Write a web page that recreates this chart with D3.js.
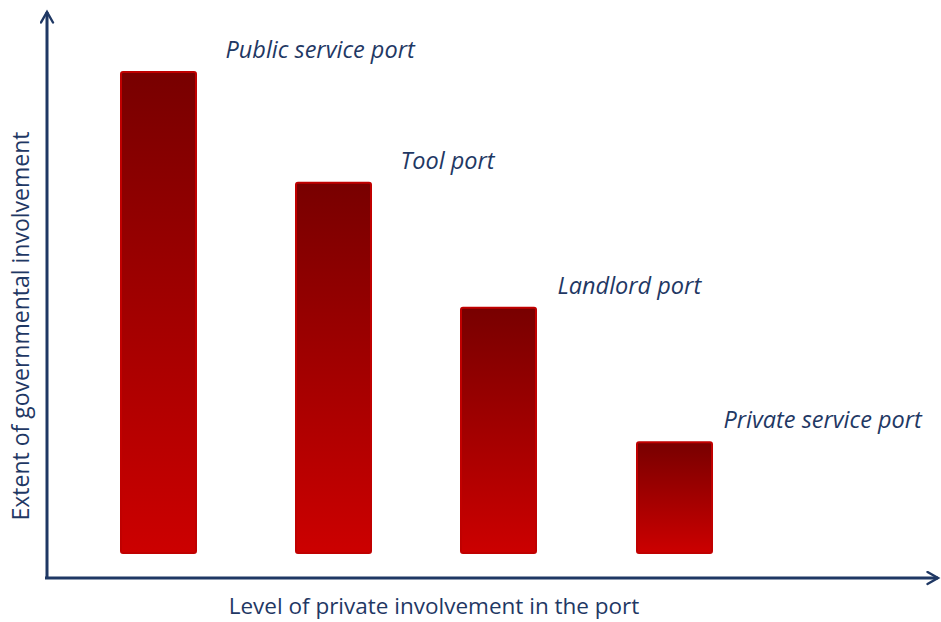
<!DOCTYPE html>
<html lang="en">
<head>
<meta charset="utf-8">
<title>Port models</title>
<script src="https://d3js.org/d3.v7.min.js"></script>
<style>
  body { margin: 0; background: #fff; }
  text { font-family: "Open Sans", "Noto Sans", sans-serif; }
</style>
</head>
<body>
<script>
// port models, ordered by growing private involvement
var ports = ['Public service port', 'Tool port', 'Landlord port', 'Private service port'];
// extent of governmental involvement (relative)
var govInvolvement = [100, 77, 51, 23];

var width = 941, height = 622;
var navy = '#1f3864';

var svg = d3.select('body').append('svg')
  .attr('width', width)
  .attr('height', height);

// gradient for the bars: dark on top, bright red at the bottom
var defs = svg.append('defs');
var grad = defs.append('linearGradient')
  .attr('id', 'barGrad')
  .attr('x1', 0).attr('y1', 0).attr('x2', 0).attr('y2', 1);
grad.append('stop').attr('offset', '0%').attr('stop-color', '#780000');
grad.append('stop').attr('offset', '100%').attr('stop-color', '#cc0000');

defs.append('marker')
  .attr('id', 'arrow')
  .attr('viewBox', '0 0 10 10')
  .attr('refX', 8).attr('refY', 5)
  .attr('markerWidth', 5).attr('markerHeight', 5)
  .attr('orient', 'auto')
  .append('path')
  .attr('d', 'M1,1 L8,5 L1,9')
  .attr('fill', 'none')
  .attr('stroke', navy)
  .attr('stroke-width', 1.6)
  .attr('stroke-linecap', 'round');

// bar centres as in the reference (spacing is not even)
var centres = d3.scaleOrdinal().domain(ports).range([158.5, 333.5, 498.5, 674.5]);
// label start, measured from the bar centre
var labelDx = d3.scaleOrdinal().domain(ports).range([67, 67, 59, 49]);
var barW = 75;

var y = d3.scaleLinear()
  .domain([0, 100])
  .range([553, 72]);

// axes with arrowheads
svg.append('line')
  .attr('x1', 47).attr('y1', 579)
  .attr('x2', 47).attr('y2', 12)
  .attr('stroke', navy).attr('stroke-width', 3)
  .attr('marker-end', 'url(#arrow)');

svg.append('line')
  .attr('x1', 45).attr('y1', 578)
  .attr('x2', 938).attr('y2', 578)
  .attr('stroke', navy).attr('stroke-width', 3)
  .attr('marker-end', 'url(#arrow)');

// bars
svg.selectAll('rect.bar')
  .data(ports)
  .enter()
  .append('rect')
  .attr('class', 'bar')
  .attr('x', function(d) { return centres(d) - barW / 2; })
  .attr('y', function(d, i) { return y(govInvolvement[i]); })
  .attr('width', barW)
  .attr('height', function(d, i) { return y(0) - y(govInvolvement[i]); })
  .attr('rx', 2)
  .attr('fill', 'url(#barGrad)')
  .attr('stroke', '#c00000')
  .attr('stroke-width', 2);

// labels above-right of each bar
svg.selectAll('text.port')
  .data(ports)
  .enter()
  .append('text')
  .attr('class', 'port')
  .attr('x', function(d) { return centres(d) + labelDx(d); })
  .attr('y', function(d, i) { return y(govInvolvement[i]) - 14; })
  .attr('fill', navy)
  .attr('font-size', 23.5)
  .attr('font-style', 'italic')
  .text(function(d) { return d; });

// axis titles
svg.append('text')
  .attr('x', 434).attr('y', 614)
  .attr('text-anchor', 'middle')
  .attr('fill', navy)
  .attr('font-size', 22.5)
  .text('Level of private involvement in the port');

svg.append('text')
  .attr('transform', 'translate(29,326) rotate(-90)')
  .attr('text-anchor', 'middle')
  .attr('fill', navy)
  .attr('font-size', 23)
  .text('Extent of governmental involvement');
</script>
</body>
</html>
